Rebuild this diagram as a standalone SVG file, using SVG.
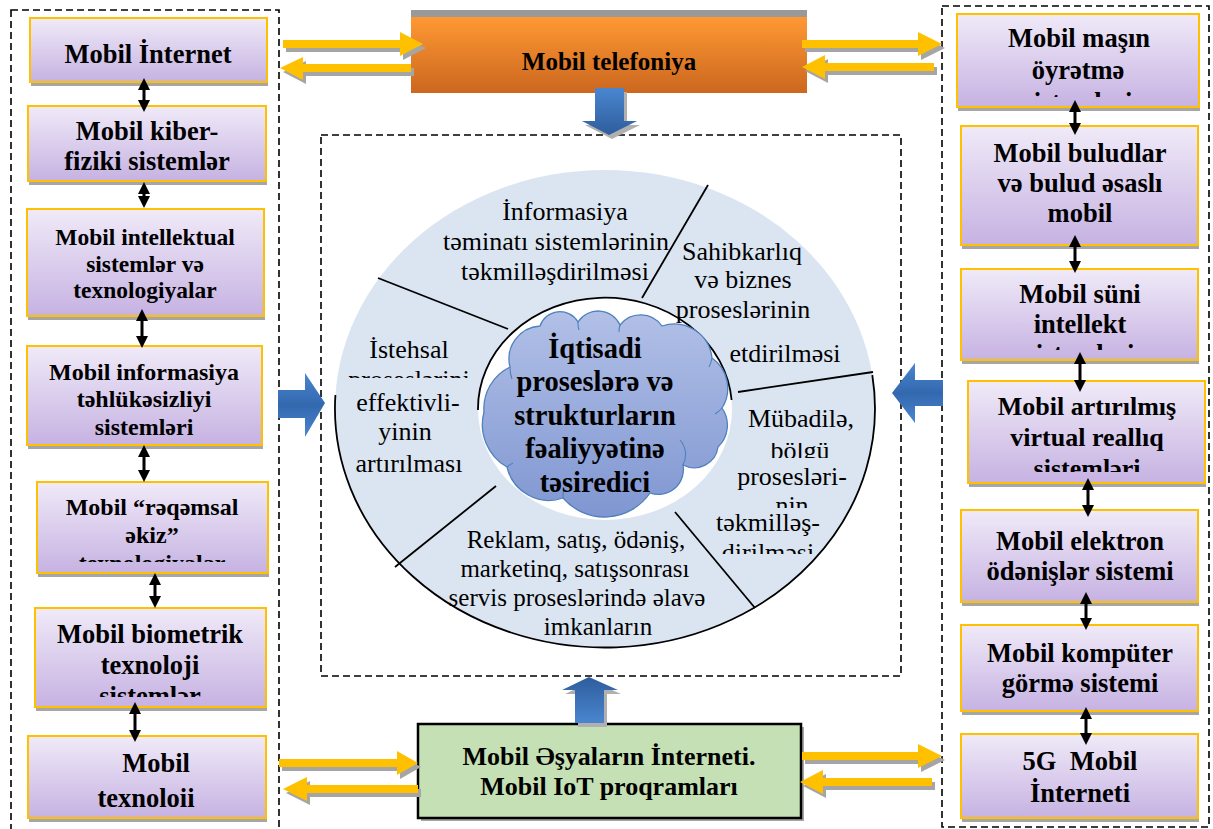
<svg xmlns="http://www.w3.org/2000/svg" width="1213" height="829" viewBox="0 0 1213 829">
<defs>
<style>
.b{font-family:"Liberation Serif","Times New Roman",serif;font-weight:bold;text-anchor:middle;fill:#000}
.r{font-family:"Liberation Serif","Times New Roman",serif;font-weight:normal;text-anchor:middle;fill:#000;font-size:26px}
.box{fill:url(#lav);stroke:#FFC000;stroke-width:2}
.sh{fill:#A6A6A6}
.dash{fill:none;stroke:#000;stroke-width:1.6;stroke-dasharray:7 4}
.dbl{stroke:#000;stroke-width:3;marker-start:url(#ah);marker-end:url(#ah)}
.div{stroke:#000;stroke-width:1.8;fill:none}
</style>
<linearGradient id="lav" x1="0" y1="0" x2="0" y2="1"><stop offset="0" stop-color="#F0EAF8"/><stop offset="1" stop-color="#C6B2E2"/></linearGradient>
<linearGradient id="org" x1="0" y1="0" x2="0" y2="1"><stop offset="0" stop-color="#FF9833"/><stop offset="1" stop-color="#CB671F"/></linearGradient>
<linearGradient id="bdown" x1="0" y1="0" x2="0" y2="1"><stop offset="0" stop-color="#4A86D0"/><stop offset="1" stop-color="#2E5D9C"/></linearGradient>
<linearGradient id="bup" x1="0" y1="0" x2="0" y2="1"><stop offset="0" stop-color="#2E5D9C"/><stop offset="1" stop-color="#4A86D0"/></linearGradient>
<linearGradient id="bh" x1="0" y1="0" x2="0" y2="1"><stop offset="0" stop-color="#4A86D0"/><stop offset="0.5" stop-color="#3368AE"/><stop offset="1" stop-color="#4A86D0"/></linearGradient>
<linearGradient id="cloudG" gradientUnits="userSpaceOnUse" x1="0" y1="312" x2="0" y2="518"><stop offset="0" stop-color="#B2C0E7"/><stop offset="1" stop-color="#7F96D1"/></linearGradient>
<marker id="ah" viewBox="0 0 10 10" refX="2" refY="5" markerWidth="12" markerHeight="15" markerUnits="userSpaceOnUse" orient="auto-start-reverse"><path d="M0,0 L10,5 L0,10 z" fill="#000"/></marker>
<clipPath id="c1"><rect x="900" y="60" width="313" height="37"/></clipPath>
<clipPath id="c2"><rect x="900" y="320" width="313" height="30"/></clipPath>
<clipPath id="c3"><rect x="900" y="440" width="313" height="32"/></clipPath>
<clipPath id="c4"><rect x="0" y="530" width="300" height="32"/></clipPath>
<clipPath id="c5"><rect x="0" y="660" width="300" height="37"/></clipPath>
<clipPath id="c6"><rect x="330" y="340" width="160" height="38"/></clipPath>
<clipPath id="c7"><rect x="700" y="490" width="180" height="18"/></clipPath>
<clipPath id="c8"><rect x="700" y="535" width="180" height="19"/></clipPath>
<clipPath id="c9"><rect x="700" y="443" width="180" height="15"/></clipPath>
<g id="ya">
<polygon points="283,40 400,40 400,32 423,44 400,56 400,48 283,48"/>
<polygon points="411,64 303,64 303,57 280,68 303,80 303,72 411,72"/>
<polygon points="802,40 918,40 918,32 942,44 918,56 918,48 802,48"/>
<polygon points="934,63 825,63 825,55 802,67 825,79 825,71 934,71"/>
<polygon points="279,759 397,759 397,751 418,763 397,775 397,767 279,767"/>
<polygon points="418,785 307,785 307,777 283,789 307,801 307,793 418,793"/>
<polygon points="802,752 918,752 918,744 942,756 918,768 918,760 802,760"/>
<polygon points="932,778 823,778 823,770 800,782 823,794 823,786 932,786"/>
</g>
</defs>
<rect width="1213" height="829" fill="#fff"/>

<!-- containers -->
<g id="containers">
<rect class="dash" x="11" y="10" width="268" height="830"/>
<rect class="dash" x="942" y="6" width="267" height="821"/>
<rect class="dash" x="321" y="135" width="580" height="541"/>
</g>

<!-- central ring -->
<g id="ring">
<ellipse cx="605" cy="409" rx="270" ry="239" fill="#DBE5F1"/>
<ellipse cx="605" cy="409" rx="127" ry="111" fill="#fff"/>
<path class="div" d="M 335.4 395 A 270 239 0 1 0 872.3 375" stroke-width="1.5"/>
<path class="div" d="M 478 410 A 127 111 0 0 1 731.6 400" stroke-width="2"/>
<line class="div" x1="378" y1="278" x2="508" y2="329"/>
<line class="div" x1="708" y1="185" x2="642" y2="298"/>
<line class="div" x1="738" y1="392" x2="873" y2="372"/>
<line class="div" x1="675" y1="512" x2="755" y2="608"/>
<line class="div" x1="496" y1="486" x2="395" y2="567"/>
<text class="r" x="565" y="220">İnformasiya</text>
<text class="r" x="556" y="250">təminatı sistemlərinin</text>
<text class="r" x="555" y="280">təkmilləşdirilməsi</text>
<text class="r" x="742" y="260">Sahibkarlıq</text>
<text class="r" x="743" y="288">və biznes</text>
<text class="r" x="743" y="318">proseslərinin</text>
<text class="r" x="785" y="362">etdirilməsi</text>
<text class="r" x="801" y="427">Mübadilə,</text>
<text class="r" x="800" y="459" clip-path="url(#c9)">bölgü</text>
<text class="r" x="792" y="485">prosesləri-</text>
<text class="r" x="792" y="514" clip-path="url(#c7)">nin</text>
<text class="r" x="768" y="531">təkmilləş-</text>
<text class="r" x="768" y="561" clip-path="url(#c8)">dirilməsi</text>
<text class="r" x="409" y="358">İstehsal</text>
<text class="r" x="409" y="388" clip-path="url(#c6)">proseslərini</text>
<text class="r" x="408" y="411">effektivli-</text>
<text class="r" x="405" y="440">yinin</text>
<text class="r" x="409" y="472">artırılması</text>
<text class="r" x="576" y="548" style="font-size:25px">Reklam, satış, ödəniş,</text>
<text class="r" x="575" y="577" style="font-size:25px">marketinq, satışsonrası</text>
<text class="r" x="577" y="606" style="font-size:25px">servis proseslərində əlavə</text>
<text class="r" x="598" y="635" style="font-size:25px">imkanların</text>
</g>

<!-- cloud -->
<g id="cloud">
<path d="M 484 412 A 46 46 0 0 1 510 367 A 33 33 0 0 1 540 326 A 21 21 0 0 1 578 322 A 24 24 0 0 1 620 325 A 26 26 0 0 1 662 326 A 38 38 0 0 1 712 358 A 37 37 0 0 1 722 408 A 30 30 0 0 1 718 447 A 24 24 0 0 1 683 465 A 25 25 0 0 1 650 493 A 55 55 0 0 1 563 498 A 43 43 0 0 1 507 467 A 49 49 0 0 1 484 412 Z" fill="url(#cloudG)" stroke="#4F81BD" stroke-width="1.3"/>
<path d="M 510 367 a 33 33 0 0 0 2 12 M 578 322 a 21 21 0 0 0 1 8 M 620 325 a 23 23 0 0 0 -1 7 M 712 358 a 31 31 0 0 1 -3 9 M 683 465 a 22 22 0 0 0 -3 -25 M 563 498 a 33 33 0 0 1 1 -9 M 507 467 a 31 31 0 0 1 6 -4 M 722 408 a 28 28 0 0 1 -7 6" fill="none" stroke="#4F81BD" stroke-width="1.1"/>
<text class="b" x="595" y="358" font-size="28.5">İqtisadi</text>
<text class="b" x="595" y="391" font-size="28.5">proseslərə və</text>
<text class="b" x="595" y="425" font-size="28.5">strukturların</text>
<text class="b" x="595" y="458" font-size="28.5">fəaliyyətinə</text>
<text class="b" x="595" y="492" font-size="28.5">təsiredici</text>
</g>

<!-- top node -->
<g id="telefoniya">
<rect x="411" y="10" width="396" height="83" fill="#999"/>
<rect x="411" y="17" width="396" height="76" fill="url(#org)"/>
<text class="b" x="609" y="70" font-size="25">Mobil telefoniya</text>
</g>

<!-- bottom node -->
<g id="iot">
<rect x="421" y="727" width="383" height="94" fill="#A6A6A6"/>
<rect x="418" y="724" width="383" height="94" fill="#C5E0B4" stroke="#000" stroke-width="2.5"/>
<text class="b" x="609" y="765" font-size="26">Mobil Əşyaların İnterneti.</text>
<text class="b" x="609" y="795" font-size="26">Mobil IoT proqramları</text>
</g>

<!-- left column -->
<g id="L1"><rect class="sh" x="31" y="22" width="237" height="64"/><rect class="box" x="30" y="18" width="237" height="64"/>
<text class="b" x="148" y="63" font-size="26.5">Mobil İnternet</text></g>
<g id="L2"><rect class="sh" x="29" y="110" width="238" height="75"/><rect class="box" x="28" y="106" width="238" height="75"/>
<text class="b" x="147" y="140" font-size="26.5">Mobil kiber-</text><text class="b" x="147" y="170" font-size="26.5">fiziki sistemlər</text></g>
<g id="L3"><rect class="sh" x="28" y="213" width="237" height="107"/><rect class="box" x="27" y="209" width="237" height="107"/>
<text class="b" x="145" y="245" font-size="23.5">Mobil intellektual</text><text class="b" x="145" y="272" font-size="23.5">sistemlər və</text><text class="b" x="145" y="298" font-size="23.5">texnologiyalar</text></g>
<g id="L4"><rect class="sh" x="28" y="350" width="235" height="99"/><rect class="box" x="27" y="346" width="235" height="99"/>
<text class="b" x="144" y="380" font-size="24">Mobil informasiya</text><text class="b" x="144" y="407" font-size="24">təhlükəsizliyi</text><text class="b" x="144" y="435" font-size="24">sistemləri</text></g>
<g id="L5"><rect class="sh" x="38" y="486" width="231" height="91"/><rect class="box" x="37" y="482" width="231" height="91"/>
<text class="b" x="152" y="515" font-size="24">Mobil “rəqəmsal</text><text class="b" x="152" y="543" font-size="24">əkiz”</text><text class="b" x="152" y="571" font-size="24" clip-path="url(#c4)">texnologiyalar</text></g>
<g id="L6"><rect class="sh" x="36" y="612" width="231" height="99"/><rect class="box" x="35" y="608" width="231" height="99"/>
<text class="b" x="150" y="643" font-size="26.5">Mobil biometrik</text><text class="b" x="150" y="674" font-size="26.5">texnoloji</text><text class="b" x="150" y="705" font-size="26.5" clip-path="url(#c5)">sistemlər</text></g>
<g id="L7"><rect class="sh" x="29" y="740" width="238" height="82"/><rect class="box" x="28" y="736" width="238" height="82"/>
<text class="b" x="156" y="772" font-size="26.5">Mobil</text><text class="b" x="146" y="807" font-size="26.5">texnoloii</text></g>

<!-- right column -->
<g id="R1"><rect class="sh" x="958" y="18" width="242" height="93"/><rect class="box" x="957" y="14" width="242" height="93"/>
<text class="b" x="1079" y="47" font-size="26.5">Mobil maşın</text><text class="b" x="1078" y="79" font-size="26.5">öyrətmə</text><text class="b" x="1078" y="111" font-size="26.5" clip-path="url(#c1)">sistemləri</text></g>
<g id="R2"><rect class="sh" x="962" y="130" width="237" height="119"/><rect class="box" x="961" y="126" width="237" height="119"/>
<text class="b" x="1080" y="162" font-size="26.5">Mobil buludlar</text><text class="b" x="1080" y="192" font-size="26.5">və bulud əsaslı</text><text class="b" x="1080" y="222" font-size="26.5">mobil</text></g>
<g id="R3"><rect class="sh" x="962" y="273" width="237" height="91"/><rect class="box" x="961" y="269" width="237" height="91"/>
<text class="b" x="1080" y="303" font-size="26.5">Mobil süni</text><text class="b" x="1080" y="333" font-size="26.5">intellekt</text><text class="b" x="1080" y="363" font-size="26.5" clip-path="url(#c2)">sistemləri</text></g>
<g id="R4"><rect class="sh" x="969" y="385" width="237" height="102"/><rect class="box" x="968" y="381" width="237" height="102"/>
<text class="b" x="1087" y="415" font-size="26">Mobil artırılmış</text><text class="b" x="1087" y="446" font-size="26">virtual reallıq</text><text class="b" x="1087" y="477" font-size="26" clip-path="url(#c3)">sistemləri</text></g>
<g id="R5"><rect class="sh" x="962" y="514" width="237" height="92"/><rect class="box" x="961" y="510" width="237" height="92"/>
<text class="b" x="1080" y="550" font-size="26.5">Mobil elektron</text><text class="b" x="1080" y="580" font-size="26.5">ödənişlər sistemi</text></g>
<g id="R6"><rect class="sh" x="962" y="629" width="237" height="86"/><rect class="box" x="961" y="625" width="237" height="86"/>
<text class="b" x="1080" y="662" font-size="26.5">Mobil kompüter</text><text class="b" x="1080" y="692" font-size="26.5">görmə sistemi</text></g>
<g id="R7"><rect class="sh" x="962" y="738" width="237" height="84"/><rect class="box" x="961" y="734" width="237" height="84"/>
<text class="b" x="1080" y="770" font-size="26.5" xml:space="preserve">5G  Mobil</text><text class="b" x="1080" y="802" font-size="26.5">İnterneti</text></g>

<!-- connectors -->
<g id="connectors">
<use href="#ya" transform="translate(3,4)" fill="#A5A5A5"/>
<use href="#ya" fill="#FFC000"/>
<polygon points="598,92 627,92 627,125 640,125 612,139 585,125 598,125" fill="#B0B0B0"/>
<polygon points="595,88 624,88 624,121 637,121 609,135 582,121 595,121" fill="url(#bdown)"/>
<polygon points="578,727 607,727 607,694 621,694 592,681 565,694 578,694" fill="#B0B0B0"/>
<polygon points="575,723 604,723 604,690 618,690 589,677 562,690 575,690" fill="url(#bup)"/>
<polygon points="278,390 305,390 305,373 325,403 305,437 305,418 278,418" fill="url(#bh)"/>
<polygon points="943,380 915,380 915,363 892,393 915,423 915,406 943,406" fill="url(#bh)"/>
<line class="dbl" x1="144" y1="87.6" x2="144" y2="102.4"/>
<line class="dbl" x1="144" y1="191.6" x2="144" y2="198.4"/>
<line class="dbl" x1="142" y1="318.6" x2="142" y2="338.4"/>
<line class="dbl" x1="144" y1="454.6" x2="144" y2="472.4"/>
<line class="dbl" x1="155" y1="582.6" x2="155" y2="598.4"/>
<line class="dbl" x1="135" y1="711.6" x2="135" y2="732.4"/>
<line class="dbl" x1="1075" y1="109.6" x2="1075" y2="125.4"/>
<line class="dbl" x1="1075" y1="244.6" x2="1075" y2="263.4"/>
<line class="dbl" x1="1080" y1="361.6" x2="1080" y2="382.4"/>
<line class="dbl" x1="1088" y1="487.6" x2="1088" y2="507.4"/>
<line class="dbl" x1="1086" y1="601.6" x2="1086" y2="620.4"/>
<line class="dbl" x1="1086" y1="716.6" x2="1086" y2="735.4"/>
</g>
</svg>
